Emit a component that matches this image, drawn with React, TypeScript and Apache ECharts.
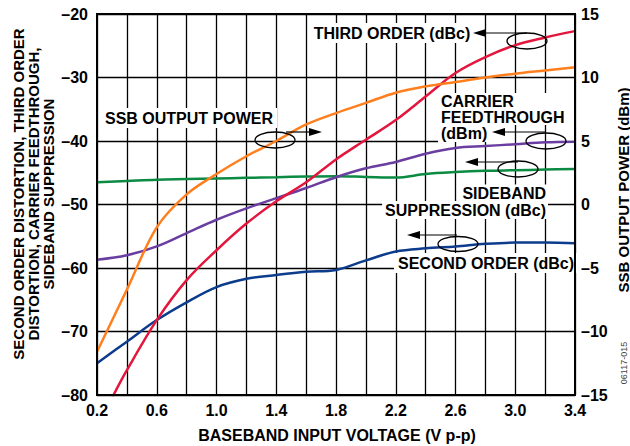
import React, { useEffect, useRef } from 'react';
import * as echarts from 'echarts';

// Baseband input voltage (V p-p)
const VOLTAGE = [0.2, 0.4, 0.6, 0.8, 1.0, 1.2, 1.4, 1.6, 1.8, 2.0, 2.2, 2.4, 2.6, 2.8, 3.0, 3.2, 3.4];
// SSB output power (dBm) – right axis
const SSB_OUTPUT_POWER = [-11.6, -6.7, -1.8, 0.8, 2.4, 3.8, 5.0, 6.3, 7.2, 8.0, 8.8, 9.3, 9.65, 10.0, 10.3, 10.55, 10.8];
// Third order distortion (dBc) – left axis
const THIRD_ORDER_VOLTAGE = [0.3, 0.4, 0.6, 0.8, 1.0, 1.2, 1.4, 1.6, 1.8, 2.0, 2.2, 2.4, 2.6, 2.8, 3.0, 3.2, 3.4];
const THIRD_ORDER = [-80.5, -76.1, -68.2, -61.9, -57.2, -53.0, -49.5, -46.5, -42.9, -39.8, -36.7, -33.0, -29.3, -26.8, -24.9, -23.7, -22.7];
// Second order distortion (dBc)
const SECOND_ORDER = [-75.0, -71.6, -68.2, -65.4, -63.0, -61.7, -61.1, -60.6, -60.3, -58.8, -57.4, -56.9, -56.6, -56.2, -56.0, -56.0, -56.1];
// Carrier feedthrough (dBm)
const CARRIER_FEEDTHROUGH = [-58.7, -58.0, -56.6, -54.5, -52.4, -50.6, -49.0, -47.4, -45.7, -44.3, -43.3, -42.0, -41.1, -40.8, -40.5, -40.2, -40.1];
// Sideband suppression (dBc)
const SIDEBAND_SUPPRESSION = [-46.5, -46.3, -46.1, -46.0, -45.9, -45.8, -45.7, -45.6, -45.55, -45.65, -45.75, -45.2, -44.9, -44.7, -44.6, -44.5, -44.4];

const X_TICK_LABELS = ['0.2', '0.6', '1.0', '1.4', '1.8', '2.2', '2.6', '3.0', '3.4'];
const LEFT_MIN = -80, LEFT_MAX = -20, LEFT_STEP = 10;
const RIGHT_MIN = -15, RIGHT_MAX = 15, RIGHT_STEP = 5;

const FAMILY = '"Liberation Sans", Arial, Helvetica, sans-serif';
const BOLD16 = `bold 16px ${FAMILY}`;
const BOLD15 = `bold 15px ${FAMILY}`;

const fmtMinus = (v: number) => (v < 0 ? '\u2013' + Math.abs(v) : String(v));

function txt(text: string, x: number, y: number, align: string, opts: any = {}) {
  return {
    type: 'text',
    x,
    y,
    z: 1.5,
    silent: true,
    rotation: opts.rotation || 0,
    style: {
      text,
      font: opts.font || BOLD16,
      fill: opts.fill || '#000',
      align,
      textAlign: align,
      verticalAlign: 'middle',
      textVerticalAlign: 'middle',
      lineHeight: opts.lineHeight,
      backgroundColor: opts.bg,
      padding: opts.padding,
    },
  };
}

function arrowLeft(tipX: number, y: number, endX: number) {
  return [
    { type: 'line', z: 3, silent: true, shape: { x1: tipX + 12, y1: y, x2: endX, y2: y }, style: { stroke: '#000', lineWidth: 1.2 } },
    { type: 'polygon', z: 3, silent: true, shape: { points: [[tipX, y], [tipX + 13, y - 4], [tipX + 13, y + 4]] }, style: { fill: '#000' } },
  ];
}
function arrowRight(startX: number, y: number, tipX: number) {
  return [
    { type: 'line', z: 3, silent: true, shape: { x1: startX, y1: y, x2: tipX - 12, y2: y }, style: { stroke: '#000', lineWidth: 1.2 } },
    { type: 'polygon', z: 3, silent: true, shape: { points: [[tipX, y], [tipX - 13, y - 4], [tipX - 13, y + 4]] }, style: { fill: '#000' } },
  ];
}
function ellipse(cx: number, cy: number, rx: number, ry: number) {
  return { type: 'ellipse', z: 3, silent: true, shape: { cx, cy, rx, ry }, style: { fill: 'transparent', stroke: '#000', lineWidth: 1.3 } };
}

export default function App() {
  const ref = useRef<HTMLDivElement>(null);
  useEffect(() => {
    document.body.style.margin = '0';
    if (!ref.current) return;
    const chart = echarts.init(ref.current, undefined, { renderer: 'svg' });
    const lineCommon = { type: 'line', symbol: 'none', smooth: 0.35, z: 2 };
    const option: any = {
      animation: false,
      backgroundColor: '#fff',
      grid: { left: 97, right: 55, top: 14, bottom: 51, show: true, borderColor: '#000', borderWidth: 2, z: 4 },
      xAxis: {
        type: 'value',
        min: 0.2,
        max: 3.4,
        interval: 0.2,
        z: 1,
        axisLine: { show: true, onZero: false, lineStyle: { color: '#000', width: 2 } },
        axisTick: { show: false },
        splitLine: { show: true, lineStyle: { color: '#000', width: 1.3 } },
        axisLabel: {
          margin: 7,
          color: '#000',
          fontFamily: FAMILY,
          fontWeight: 'bold',
          fontSize: 16,
          showMinLabel: true,
          showMaxLabel: true,
          formatter: (v: number) => {
            const s = v.toFixed(1);
            return X_TICK_LABELS.includes(s) ? s : '';
          },
        },
      },
      yAxis: [
        {
          type: 'value',
          min: LEFT_MIN,
          max: LEFT_MAX,
          interval: LEFT_STEP,
          z: 0,
          axisLine: { show: true, onZero: false, lineStyle: { color: '#000', width: 2 } },
          axisTick: { show: false },
          splitLine: { show: true, lineStyle: { color: '#000', width: 1.3 } },
          axisLabel: { margin: 9, color: '#000', fontFamily: FAMILY, fontWeight: 'bold', fontSize: 16, formatter: fmtMinus },
        },
        {
          type: 'value',
          position: 'right',
          min: RIGHT_MIN,
          max: RIGHT_MAX,
          interval: RIGHT_STEP,
          z: 0,
          axisLine: { show: true, onZero: false, lineStyle: { color: '#000', width: 2 } },
          axisTick: { show: false },
          splitLine: { show: false },
          axisLabel: { margin: 6, color: '#000', fontFamily: FAMILY, fontWeight: 'bold', fontSize: 16, formatter: fmtMinus },
        },
      ],
      series: [
        { ...lineCommon, name: 'SIDEBAND SUPPRESSION (dBc)', yAxisIndex: 0, data: VOLTAGE.map((x, i) => [x, SIDEBAND_SUPPRESSION[i]]), lineStyle: { color: '#0b8a41', width: 2.5 }, itemStyle: { color: '#0b8a41' } },
        { ...lineCommon, name: 'CARRIER FEEDTHROUGH (dBm)', yAxisIndex: 0, data: VOLTAGE.map((x, i) => [x, CARRIER_FEEDTHROUGH[i]]), lineStyle: { color: '#6a3ea1', width: 2.5 }, itemStyle: { color: '#6a3ea1' } },
        { ...lineCommon, name: 'SECOND ORDER (dBc)', yAxisIndex: 0, data: VOLTAGE.map((x, i) => [x, SECOND_ORDER[i]]), lineStyle: { color: '#0d3c8c', width: 2.5 }, itemStyle: { color: '#0d3c8c' } },
        { ...lineCommon, name: 'THIRD ORDER (dBc)', yAxisIndex: 0, data: THIRD_ORDER_VOLTAGE.map((x, i) => [x, THIRD_ORDER[i]]), lineStyle: { color: '#e3173e', width: 2.5 }, itemStyle: { color: '#e3173e' } },
        { ...lineCommon, name: 'SSB OUTPUT POWER (dBm)', yAxisIndex: 1, data: VOLTAGE.map((x, i) => [x, SSB_OUTPUT_POWER[i]]), lineStyle: { color: '#ff7f1e', width: 2.5 }, itemStyle: { color: '#ff7f1e' } },
      ],
      graphic: {
        elements: [
          // axis titles
          txt('SECOND ORDER DISTORTION, THIRD ORDER\nDISTORTION, CARRIER FEEDTHROUGH,\nSIDEBAND SUPPRESSION', 33, 194, 'center', { rotation: Math.PI / 2, font: BOLD15, lineHeight: 15 }),
          txt('SSB OUTPUT POWER (dBm)', 623, 190, 'center', { rotation: Math.PI / 2, font: BOLD15 }),
          txt('06117-015', 624, 363, 'center', { rotation: Math.PI / 2, font: `9px ${FAMILY}`, fill: '#444' }),
          txt('BASEBAND INPUT VOLTAGE (V p-p)', 337, 435, 'center'),
          // masks of grid lines behind the carrier feedthrough label
          { type: 'rect', z: 0.5, silent: true, shape: { x: 438, y: 139, width: 136, height: 4 }, style: { fill: '#fff' } },
          { type: 'rect', z: 1.4, silent: true, shape: { x: 438, y: 93, width: 130, height: 32 }, style: { fill: '#fff' } },
          { type: 'rect', z: 1.4, silent: true, shape: { x: 438, y: 124, width: 66, height: 18 }, style: { fill: '#fff' } },
          // THIRD ORDER
          txt('THIRD ORDER (dBc)', 392, 33, 'center', { bg: '#fff', padding: [2, 3, 2, 3] }),
          ...arrowLeft(473, 33, 527),
          ellipse(527, 41, 20, 8),
          // SSB OUTPUT POWER
          txt('SSB OUTPUT POWER', 189, 118, 'center', { bg: '#fff', padding: [2, 4, 2, 4] }),
          ...arrowRight(286, 132, 322),
          ellipse(275, 140, 20, 8),
          // CARRIER FEEDTHROUGH
          txt('CARRIER', 441, 101.5, 'left', { lineHeight: 15 }),
          txt('FEEDTHROUGH', 441, 117.5, 'left', { lineHeight: 15 }),
          txt('(dBm)', 441, 133.5, 'left', { lineHeight: 15 }),
          ...arrowLeft(492, 132, 546),
          ellipse(546, 141, 20, 8),
          // SIDEBAND SUPPRESSION
          txt('SIDEBAND', 548, 193, 'right', { bg: '#fff', padding: [1, 2, 0, 3], lineHeight: 16 }),
          txt('SUPPRESSION (dBc)', 548, 210, 'right', { bg: '#fff', padding: [0, 2, 2, 3], lineHeight: 16 }),
          ...arrowLeft(465, 162, 518),
          ellipse(518, 169, 20, 8),
          // SECOND ORDER
          txt('SECOND ORDER (dBc)', 394, 263, 'left', { bg: '#fff', padding: [2, 4, 2, 4] }),
          ...arrowLeft(407, 235, 457),
          ellipse(458, 244, 20, 7.5),
        ],
      },
    };
    chart.setOption(option);
    return () => chart.dispose();
  }, []);
  return <div ref={ref} style={{ width: 630, height: 446 }} />;
}
